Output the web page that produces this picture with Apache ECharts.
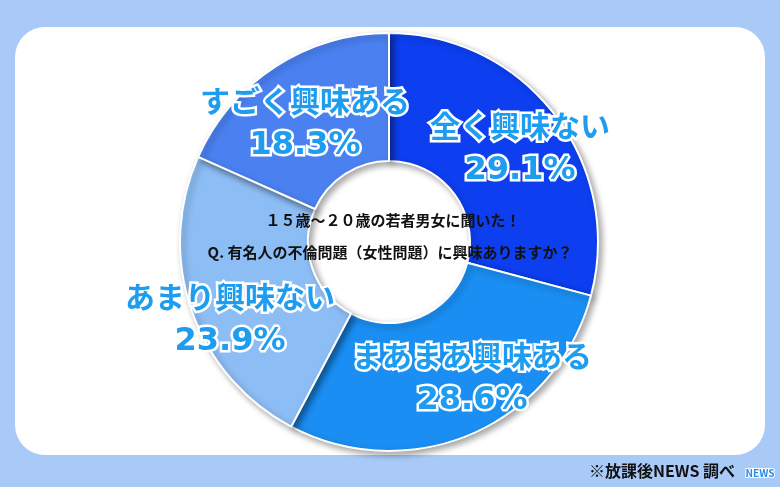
<!DOCTYPE html>
<html>
<head>
<meta charset="utf-8">
<script src="https://cdn.jsdelivr.net/npm/echarts@6/dist/echarts.min.js"></script>
<style>html,body{margin:0;padding:0;background:#a9c9f7;}#c{width:780px;height:487px;}</style>
</head>
<body>
<div id="c"></div>
<script>
var categories = ['全く興味ない', 'まあまあ興味ある', 'あまり興味ない', 'すごく興味ある'];
var values = [29.1, 28.6, 23.9, 18.3];
var titleLines = ['１５歳～２０歳の若者男女に聞いた！', 'Q. 有名人の不倫問題（女性問題）に興味ありますか？'];
var sourceText = '※放課後NEWS 調べ';

var sliceColors = ['#0d3ff0', '#1a8ef2', '#8dbdf5', '#4b80f1'];
var labelPos = [[520, 148], [472, 378], [230, 319], [305, 123]];

var chart = echarts.init(document.getElementById('c'));
var FONT = '"Noto Sans CJK JP", "Noto Sans", sans-serif';
var LBL = {fontWeight: 'bold', color: '#1e9df0', textBorderColor: '#ffffff', textBorderWidth: 5, align: 'center'};
chart.setOption({
  backgroundColor: '#a9c9f7',
  animation: false,
  graphic: [
    {type: 'rect', z: 0, shape: {x: 15, y: 27, width: 750, height: 428, r: 30}, style: {fill: '#ffffff'}},
    {type: 'text', z: 100, x: 393, y: 220, style: {text: titleLines[0], font: 'bold 15px ' + FONT, fill: '#111', align: 'center', verticalAlign: 'middle'}},
    {type: 'text', z: 100, x: 390, y: 252, style: {text: titleLines[1], font: 'bold 15px ' + FONT, fill: '#111', align: 'center', verticalAlign: 'middle'}},
    {type: 'text', z: 100, x: 735, y: 471, style: {text: sourceText, font: 'bold 16px ' + FONT, fill: '#111', align: 'right', verticalAlign: 'middle'}},
    {type: 'text', z: 100, x: 760, y: 473, style: {text: 'NEWS', font: 'bold 10px ' + FONT, fill: '#2a8ae8', stroke: '#fff', lineWidth: 2, align: 'center', verticalAlign: 'middle'}}
  ],
  series: [{
    type: 'pie',
    z: 5,
    center: [389, 242],
    radius: [81, 209],
    startAngle: 90,
    clockwise: true,
    silent: true,
    itemStyle: {borderColor: '#ffffff', borderWidth: 2, shadowBlur: 6, shadowOffsetX: 3, shadowOffsetY: 3, shadowColor: 'rgba(0,0,0,0.35)'},
    label: {
      show: true,
      position: 'inside',
      formatter: function (p) { return '{n|' + p.name + '}\n{v|' + p.value.toFixed(1) + '%}'; },
      rich: {
        n: Object.assign({fontFamily: FONT, fontSize: 30, lineHeight: 45}, LBL),
        v: Object.assign({fontFamily: '"DejaVu Sans", sans-serif', fontSize: 32, lineHeight: 45}, LBL)
      },
      align: 'center'
    },
    labelLine: {show: false},
    labelLayout: function (params) {
      var p = labelPos[params.dataIndex];
      return {x: p[0], y: p[1], align: 'center', verticalAlign: 'middle'};
    },
    data: categories.map(function (n, i) {
      return {name: n, value: values[i], itemStyle: {color: sliceColors[i]}};
    })
  }]
});
</script>
</body>
</html>
